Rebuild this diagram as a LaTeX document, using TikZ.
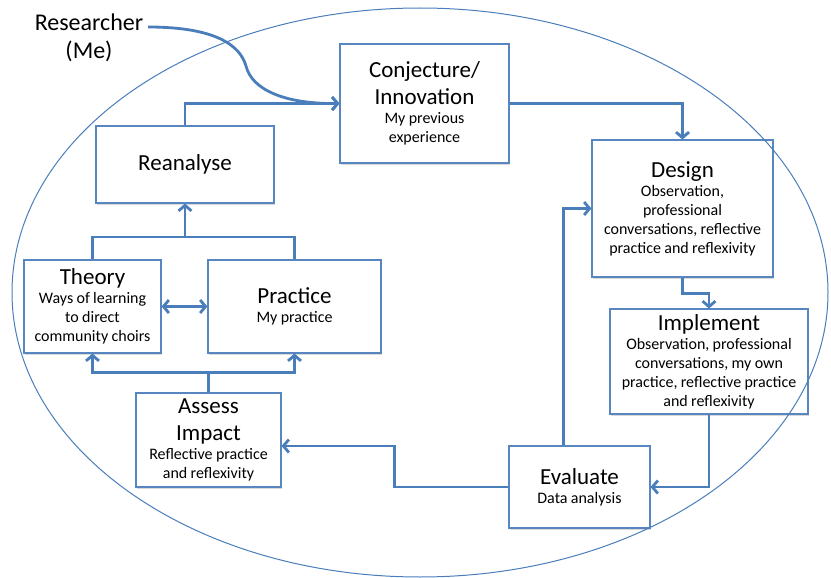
\documentclass[tikz,border=0pt]{standalone}
\usepackage{fontspec}
\setmainfont{Carlito}
\usetikzlibrary{arrows.meta, shadows}

\definecolor{cycleblue}{RGB}{74,126,187}
\definecolor{boxblue}{RGB}{88,134,192}
\newcommand{\stagetitle}{\fontsize{23}{27}\selectfont}
\newcommand{\stagenote}{\fontsize{16}{19}\selectfont}

\begin{document}
\begin{tikzpicture}[x=1pt, y=-1pt, >={Straight Barb[length=5.5pt,width=13pt]}]
        \tikzstyle{stage} = [rectangle, draw=boxblue, line width=1.1pt, fill=white, align=center, inner sep=3pt, drop shadow={shadow xshift=1.2pt, shadow yshift=-1.5pt, opacity=0.3}]
        \tikzstyle{flow} = [draw=cycleblue, line width=2.8pt]
        \useasboundingbox (0,0) rectangle (831,578);

        \node[inner sep=0pt, align=center, font=\fontsize{24}{28}\selectfont] (res) at (89,38) {Researcher\\(Me)};
        \coordinate (me) at (148,27);

        \node[stage, text width=163pt, minimum height=119pt] (conj) at (424.5,103.5) {{\stagetitle Conjecture/\\Innovation\par}{\stagenote My previous\\experience\par}};
        \node[stage, text width=175pt, minimum height=137pt] (design) at (682.5,208.5) {{\stagetitle Design\par}{\stagenote Observation,\\professional\\conversations, reflective\\practice and reflexivity\par}};
        \node[stage, text width=192pt, minimum height=105pt] (impl) at (709,361.5) {{\stagetitle Implement\par}{\stagenote Observation, professional\\conversations, my own\\practice, reflective practice\\and reflexivity\par}};
        \node[stage, text width=135pt, minimum height=82pt] (eval) at (579.5,487) {{\stagetitle Evaluate\par}{\stagenote Data analysis\par}};
        \node[stage, text width=139pt, minimum height=94pt] (assess) at (208.5,440) {{\stagetitle Assess\\Impact\par}{\stagenote Reflective practice\\and reflexivity\par}};
        \node[stage, text width=131pt, minimum height=93pt] (theory) at (92.5,306.5) {{\stagetitle Theory\par}{\stagenote Ways of learning\\to direct\\community choirs\par}};
        \node[stage, text width=167pt, minimum height=93pt] (practice) at (294.5,306.5) {{\stagetitle Practice\par}{\stagenote My practice\par}};
        \node[stage, text width=172pt, minimum height=77pt] (rean) at (185,164.5) {{\stagetitle Reanalyse\par}};

        \coordinate (join) at (rean.south |- 0,237);

        %researcher enters the cycle
        \draw[flow, ->] (me) .. controls (215,27) and (240,45) .. (246,66) .. controls (252,90) and (285,104) .. (conj.west);

        %the cycle
        \draw[flow, ->] (conj.east) -| (design.north);
        \draw[flow, ->] (design.south) -- ++(0,16) -| (impl.north);
        \draw[flow, ->] (impl.south) |- (eval.east);
        \draw[flow, ->] ([xshift=-16pt]eval.north) |- (design.west);
        \draw[flow, ->] (eval.west) -- ++(-114,0) |- ([yshift=-6pt]assess.east);

        %assess feeds theory and practice
        \draw[flow, ->] (assess.north) -- ++(0,-20) -| (theory.south);
        \draw[flow, ->] (assess.north) -- ++(0,-20) -| (practice.south);
        \draw[flow, <->] (theory.east) -- (practice.west);

        %theory and practice to reanalyse
        \draw[flow] (theory.north) |- (join) -| (practice.north);
        \draw[flow, ->] (join) -- (rean.south);
        \draw[flow, ->] (rean.north) |- (conj.west);

        %outer ellipse
        \draw[draw=cycleblue, line width=1pt] (420,292.5) ellipse (408pt and 284.5pt);
\end{tikzpicture}
\end{document}
